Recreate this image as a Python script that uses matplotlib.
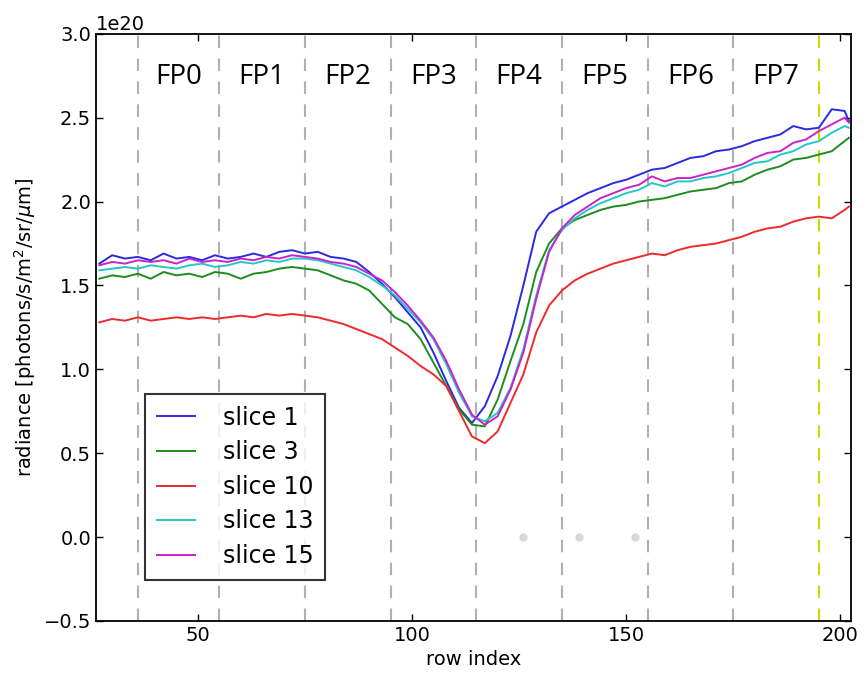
import matplotlib
matplotlib.use("Agg")
import matplotlib.pyplot as plt

# row index samples (every 3rd row, plus the last one)
rows = list(range(27, 202, 3)) + [202]

slice1 = [1.63, 1.68, 1.66, 1.67, 1.65, 1.69, 1.66, 1.67, 1.65, 1.68,
          1.66, 1.67, 1.69, 1.67, 1.70, 1.71, 1.69, 1.70, 1.67, 1.66,
          1.64, 1.58, 1.51, 1.43, 1.34, 1.25, 1.10, 0.93, 0.77, 0.68,
          0.78, 0.96, 1.20, 1.50, 1.82, 1.93, 1.97, 2.01, 2.05, 2.08,
          2.11, 2.13, 2.16, 2.19, 2.20, 2.23, 2.26, 2.27, 2.30, 2.31,
          2.33, 2.36, 2.38, 2.40, 2.45, 2.43, 2.44, 2.55, 2.54, 2.48]
slice3 = [1.54, 1.56, 1.55, 1.57, 1.54, 1.58, 1.56, 1.57, 1.55, 1.58,
          1.57, 1.54, 1.57, 1.58, 1.60, 1.61, 1.60, 1.59, 1.56, 1.53,
          1.51, 1.47, 1.39, 1.31, 1.27, 1.18, 1.04, 0.90, 0.76, 0.67,
          0.66, 0.82, 1.05, 1.27, 1.58, 1.75, 1.84, 1.89, 1.92, 1.95,
          1.97, 1.98, 2.00, 2.01, 2.02, 2.04, 2.06, 2.07, 2.08, 2.11,
          2.12, 2.16, 2.19, 2.21, 2.25, 2.26, 2.28, 2.30, 2.36, 2.38]
slice10 = [1.28, 1.30, 1.29, 1.31, 1.29, 1.30, 1.31, 1.30, 1.31, 1.30,
           1.31, 1.32, 1.31, 1.33, 1.32, 1.33, 1.32, 1.31, 1.29, 1.27,
           1.24, 1.21, 1.18, 1.13, 1.08, 1.02, 0.97, 0.90, 0.75, 0.60,
           0.56, 0.63, 0.80, 0.97, 1.22, 1.38, 1.47, 1.53, 1.57, 1.60,
           1.63, 1.65, 1.67, 1.69, 1.68, 1.71, 1.73, 1.74, 1.75, 1.77,
           1.79, 1.82, 1.84, 1.85, 1.88, 1.90, 1.91, 1.90, 1.95, 1.97]
slice13 = [1.59, 1.60, 1.61, 1.60, 1.62, 1.61, 1.60, 1.62, 1.63, 1.61,
           1.62, 1.64, 1.63, 1.65, 1.64, 1.66, 1.66, 1.65, 1.63, 1.61,
           1.59, 1.55, 1.50, 1.44, 1.36, 1.28, 1.18, 1.03, 0.86, 0.72,
           0.69, 0.74, 0.89, 1.12, 1.44, 1.71, 1.83, 1.90, 1.95, 1.99,
           2.02, 2.05, 2.07, 2.11, 2.09, 2.12, 2.12, 2.14, 2.15, 2.17,
           2.20, 2.23, 2.24, 2.28, 2.30, 2.34, 2.36, 2.41, 2.45, 2.44]
slice15 = [1.62, 1.64, 1.63, 1.65, 1.64, 1.65, 1.63, 1.66, 1.64, 1.65,
           1.64, 1.66, 1.65, 1.67, 1.66, 1.68, 1.67, 1.66, 1.64, 1.63,
           1.61, 1.57, 1.53, 1.46, 1.38, 1.29, 1.19, 1.05, 0.88, 0.73,
           0.67, 0.72, 0.88, 1.10, 1.42, 1.70, 1.84, 1.92, 1.97, 2.02,
           2.05, 2.08, 2.10, 2.15, 2.12, 2.14, 2.14, 2.16, 2.18, 2.20,
           2.22, 2.26, 2.29, 2.30, 2.35, 2.37, 2.42, 2.46, 2.50, 2.47]

series = [("slice 1", slice1, "#2a2ae0"),
          ("slice 3", slice3, "#1e8c1e"),
          ("slice 10", slice10, "#ee2a2a"),
          ("slice 13", slice13, "#22c8c8"),
          ("slice 15", slice15, "#cc22cc")]

fp_bounds = [36, 55, 75, 95, 115, 135, 155, 175]
fp_names = ["FP0", "FP1", "FP2", "FP3", "FP4", "FP5", "FP6", "FP7"]
fp_centers = [45.5, 65, 85, 105, 125, 145, 165, 185]
edge_row = 195

dot_rows = [126, 139, 152]
dot_vals = [0, 0, 0]

scale = 1e20

plt.rcParams["font.family"] = "DejaVu Sans"
plt.rcParams["xtick.direction"] = "in"
plt.rcParams["ytick.direction"] = "in"
plt.rcParams["xtick.top"] = True
plt.rcParams["ytick.right"] = True

fig = plt.figure(figsize=(8.64, 6.75), dpi=100)
ax = fig.add_axes([0.111, 0.080, 0.874, 0.870])

for b in fp_bounds:
    ax.axvline(b, color="#b0b0b0", lw=1.5, ls=(0, (6, 5)), zorder=1)
ax.axvline(edge_row, color="#d4d400", lw=1.5, ls=(0, (6, 5)), zorder=1)

ax.plot(dot_rows, [v * scale for v in dot_vals], "o", color="#d8d8d8",
        markersize=5, zorder=2)

for name, vals, col in series:
    ax.plot(rows, [v * scale for v in vals], color=col, lw=1.4, label=name,
            zorder=3)

for name, xc in zip(fp_names, fp_centers):
    ax.text(xc, 2.74e20, name, ha="center", va="center", fontsize=20,
            family="Open Sans")

ax.set_xlim(26.2, 202.5)
ax.set_ylim(-0.5e20, 3.0e20)
ax.set_xticks([50, 100, 150, 200])
ax.set_yticks([v * 1e20 for v in [-0.5, 0, 0.5, 1.0, 1.5, 2.0, 2.5, 3.0]])
ax.tick_params(labelsize=14, length=5, width=1)
ax.yaxis.get_offset_text().set_fontsize(14)
for s in ax.spines.values():
    s.set_linewidth(1.3)

ax.set_xlabel("row index", fontsize=14)
ax.set_ylabel(r"radiance [photons/s/m$^2$/sr/$\mu$m]", fontsize=14)

leg = ax.legend(loc="lower left", bbox_to_anchor=(0.065, 0.07),
                borderaxespad=0, fontsize=17, fancybox=False,
                handlelength=1.6, handletextpad=1.2, labelspacing=0.45,
                borderpad=0.5)
leg.get_frame().set_edgecolor("black")
leg.get_frame().set_linewidth(1.5)

fig.savefig("out.png", dpi=100)
